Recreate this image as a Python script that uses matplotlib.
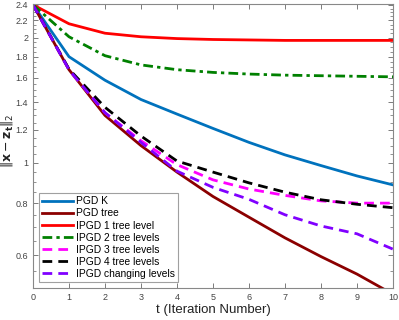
import numpy as np
import matplotlib
matplotlib.use("Agg")
import matplotlib.pyplot as plt
from matplotlib.ticker import MultipleLocator, NullFormatter

plt.rcParams["font.family"] = ["Liberation Sans", "DejaVu Sans"]
plt.rcParams["mathtext.fontset"] = "dejavusans"

# iterations
t = np.arange(0, 11)

# values (log scale)
pgd_k = [2.4, 1.80, 1.58, 1.42, 1.31, 1.21, 1.12, 1.045, 0.985, 0.93, 0.885]
pgd_tree = [2.4, 1.675, 1.30, 1.10, 0.95, 0.83, 0.74, 0.66, 0.595, 0.54, 0.483]
ipgd_1 = [2.4, 2.16, 2.05, 2.01, 1.99, 1.98, 1.975, 1.97, 1.97, 1.97, 1.97]
ipgd_2 = [2.4, 2.01, 1.81, 1.72, 1.675, 1.65, 1.635, 1.625, 1.62, 1.615, 1.61]
ipgd_3 = [2.4, 1.675, 1.32, 1.13, 0.99, 0.91, 0.865, 0.835, 0.81, 0.80, 0.80]
ipgd_4 = [2.4, 1.68, 1.36, 1.16, 1.01, 0.95, 0.895, 0.85, 0.815, 0.795, 0.78]
ipgd_chg = [2.4, 1.675, 1.32, 1.12, 0.955, 0.873, 0.817, 0.75, 0.705, 0.675, 0.62]

yticks = [0.6, 0.8, 1, 1.2, 1.4, 1.6, 1.8, 2, 2.2, 2.4]
ytick_labels = ["0.6", "0.8", "1", "1.2", "1.4", "1.6", "1.8", "2", "2.2", "2.4"]

fig = plt.figure(figsize=(3.99, 3.20), dpi=100)
ax = fig.add_axes([33 / 399, 1 - 288 / 320, 360 / 399, 284 / 320])

lw = 2.0
ax.plot(t, pgd_k, color="#0072BD", lw=lw, label="PGD K")
ax.plot(t, pgd_tree, color="#8B0000", lw=lw, label="PGD tree")
ax.plot(t, ipgd_1, color="#FF0000", lw=lw, label="IPGD 1 tree level")
ax.plot(t, ipgd_2, color="#008000", lw=lw, dashes=(3.5, 1.5, 1.2, 1.5), label="IPGD 2 tree levels")
ax.plot(t, ipgd_3, color="#FF00FF", lw=lw, dashes=(3.5, 2.2), label="IPGD 3 tree levels")
ax.plot(t, ipgd_4, color="black", lw=lw, dashes=(3.5, 2.2), label="IPGD 4 tree levels")
ax.plot(t, ipgd_chg, color="#8000FF", lw=lw, dashes=(3.5, 2.2), label="IPGD changing levels")

ax.set_yscale("log")
ax.set_xlim(0, 10)
ax.set_ylim(0.5, 2.41)
ax.set_xticks(range(0, 11))
ax.set_yticks(yticks)
ax.set_yticklabels(ytick_labels)
ax.yaxis.set_minor_locator(MultipleLocator(0.05))
ax.yaxis.set_minor_formatter(NullFormatter())

ax.tick_params(axis="both", which="both", direction="in", top=True, right=True,
               colors="#666666", labelcolor="#444444", labelsize=6.5)
ax.tick_params(which="major", length=3.5, width=0.6)
ax.tick_params(which="minor", length=2, width=0.5)
for s in ax.spines.values():
    s.set_color("#888888")
    s.set_linewidth(0.8)

ax.set_xlabel("t (Iteration Number)", fontsize=9.5, color="#222222")
ax.xaxis.set_label_coords(0.5, -0.058)
ax.set_ylabel(r"$\|\mathbf{x}-\mathbf{z_t}\|_2$", fontsize=9, color="#222222")
ax.yaxis.set_label_coords(-0.05, 0.52)

leg = ax.legend(loc="lower left", fontsize=7.4, frameon=True, fancybox=False,
                edgecolor="#888888", borderpad=0.3, labelspacing=0.2,
                handlelength=3.0, handletextpad=0.3, borderaxespad=0.6)
leg.get_frame().set_linewidth(0.8)

fig.savefig("out.png", dpi=100)
